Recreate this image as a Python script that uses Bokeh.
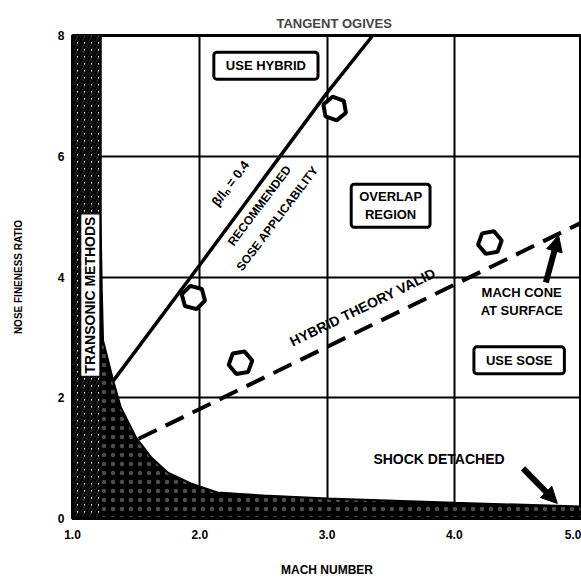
from bokeh.plotting import figure
from bokeh.models import Label, Arrow, NormalHead, FixedTicker, Range1d, ColumnDataSource
from bokeh.embed import file_html
from bokeh.resources import INLINE

# ---------------- data ----------------
mach_ticks = [1, 2, 3, 4, 5]
mach_tick_labels = ["1.0", "2.0", "3.0", "4.0", "5.0"]
fineness_ticks = [0, 2, 4, 6, 8]
fineness_tick_labels = ["0", "2", "4", "6", "8"]
grid_mach = [2, 3, 4]
grid_fineness = [2, 4, 6]

# shock-detached boundary
shock_mach = [1.22, 1.22, 1.23, 1.24, 1.32, 1.38, 1.50, 1.62, 1.75, 1.93, 2.04, 2.14, 2.5, 3.0, 4.0, 5.0]
shock_fineness = [8.0, 5.0, 3.8, 2.95, 2.28, 1.84, 1.34, 1.01, 0.76, 0.58, 0.50, 0.43, 0.38, 0.33, 0.26, 0.20]

# transonic-methods band
transonic_mach = [1.0, 1.22]
transonic_fineness = [0.0, 8.0]

# beta/l_n = 0.4 line (recommended SOSE applicability)
sose_mach = [1.32, 2.0, 3.0, 3.36]
sose_fineness = [2.28, 4.2, 7.05, 8.0]

# hybrid theory valid (mach cone at surface)
hybrid_mach = [1.52, 5.0]
hybrid_fineness = [1.32, 4.9]

# open markers (cases)
case_mach = [3.06, 1.95, 2.32, 4.28]
case_fineness = [6.79, 3.66, 2.58, 4.57]
case_angle = [-20, -15, 10, 10]

# arrows: (x_start, y_start, x_end, y_end)
cone_arrow = [4.72, 3.91, 4.82, 4.69]
shock_arrow = [4.54, 0.83, 4.81, 0.25]

FONT = "Liberation Sans"

p = figure(width=581, height=579, x_range=Range1d(1, 5), y_range=Range1d(0, 8),
           output_backend="svg", toolbar_location=None,
           min_border_left=72, min_border_right=0, min_border_top=35, min_border_bottom=61)
p.background_fill_color = "white"
p.border_fill_color = "white"
p.outline_line_color = "black"
p.outline_line_width = 3

p.title.text = "TANGENT OGIVES"
p.title.align = "left"
p.title.offset = 204
p.title.text_font = FONT
p.title.text_font_size = "13px"
p.title.text_font_style = "bold"

# axes
p.xaxis.ticker = FixedTicker(ticks=mach_ticks)
p.xaxis.major_label_overrides = dict(zip(mach_ticks, mach_tick_labels))
p.yaxis.ticker = FixedTicker(ticks=fineness_ticks)
p.yaxis.major_label_overrides = dict(zip(fineness_ticks, fineness_tick_labels))
p.xaxis.axis_label = "MACH NUMBER"
p.yaxis.axis_label = "NOSE FINENESS RATIO"
for ax in (p.xaxis[0], p.yaxis[0]):
    ax.major_tick_out = 0
    ax.major_tick_in = 0
    ax.minor_tick_out = 0
    ax.minor_tick_in = 0
    ax.axis_line_color = "black"
    ax.axis_line_width = 3
    ax.major_label_text_font = FONT
    ax.major_label_text_font_style = "bold"
    ax.major_label_text_font_size = "12px"
    ax.major_label_text_color = "black"
    ax.axis_label_text_font = FONT
    ax.axis_label_text_font_style = "bold"
    ax.axis_label_text_color = "black"
p.xaxis.major_label_standoff = 11
p.xaxis.axis_label_standoff = 21
p.xaxis.axis_label_text_font_size = "12px"
p.yaxis.major_label_standoff = 8
p.yaxis.axis_label_standoff = 31
p.yaxis.axis_label_text_font_size = "10px"

p.xgrid.ticker = FixedTicker(ticks=grid_mach)
p.ygrid.ticker = FixedTicker(ticks=grid_fineness)
p.grid.grid_line_color = "black"
p.grid.grid_line_width = 2

# shock detached region
p.patch(shock_mach + [shock_mach[-1], shock_mach[0]],
        shock_fineness + [0, 0],
        fill_color="black", line_color="black", line_width=2,
        hatch_pattern="dot", hatch_color="white", hatch_scale=9, hatch_weight=1, hatch_alpha=0.3)

# transonic hatched band
p.quad(left=[transonic_mach[0]], right=[transonic_mach[1]],
       bottom=[transonic_fineness[0]], top=[transonic_fineness[1]],
       fill_color="white", line_color="black", line_width=2,
       hatch_pattern="/", hatch_color="black", hatch_scale=7, hatch_weight=3)

# lines
p.line(sose_mach, sose_fineness, line_color="black", line_width=3.5)
p.line(hybrid_mach, hybrid_fineness, line_color="black", line_width=4, line_dash="20 10")

# open markers
src = ColumnDataSource(dict(x=case_mach, y=case_fineness, a=case_angle))
p.scatter("x", "y", source=src, marker="hex", size=24, angle="a", angle_units="deg",
          fill_color="white", line_color="black", line_width=4)

# arrows
for a in (cone_arrow, shock_arrow):
    p.add_layout(Arrow(end=NormalHead(size=16, fill_color="black", line_color="black"),
                       x_start=a[0], y_start=a[1], x_end=a[2], y_end=a[3],
                       line_width=6, line_color="black"))

def lab(x, y, text, size="13px", angle=0, box=False, bg=None, pad=None):
    kw = dict(x=x, y=y, text=text, text_align="center", text_baseline="middle",
              text_font=FONT, text_font_style="bold", text_font_size=size,
              text_color="black", angle=angle, angle_units="deg")
    if box:
        kw.update(border_line_color="black", border_line_width=3,
                  background_fill_color="white", border_radius=3,
                  padding=pad)
    elif bg:
        kw.update(background_fill_color=bg, padding=pad)
    p.add_layout(Label(**kw))

lab(2.52, 7.5, "USE HYBRID", box=True, pad=dict(left=12, right=12, top=6, bottom=6))
lab(3.50, 5.18, "OVERLAP\nREGION", box=True, pad=dict(left=8, right=8, top=5, bottom=5))
lab(4.51, 2.62, "USE SOSE", box=True, pad=dict(left=12, right=12, top=6, bottom=6))
lab(4.53, 3.59, "MACH CONE\nAT SURFACE")
lab(3.88, 0.99, "SHOCK DETACHED", size="14px")
lab(1.14, 3.7, "TRANSONIC METHODS", size="14px", angle=90, bg="white",
    pad=dict(left=2, right=2, top=1, bottom=1))
lab(2.24, 5.55, "β/lₙ = 0.4", size="13px", angle=53)
lab(2.47, 5.18, "RECOMMENDED", size="12px", angle=53)
lab(2.61, 4.97, "SOSE APPLICABILITY", size="12px", angle=53)
lab(3.28, 3.50, "HYBRID THEORY VALID", size="14px", angle=26)

open("out.html", "w").write(file_html(p, INLINE))
